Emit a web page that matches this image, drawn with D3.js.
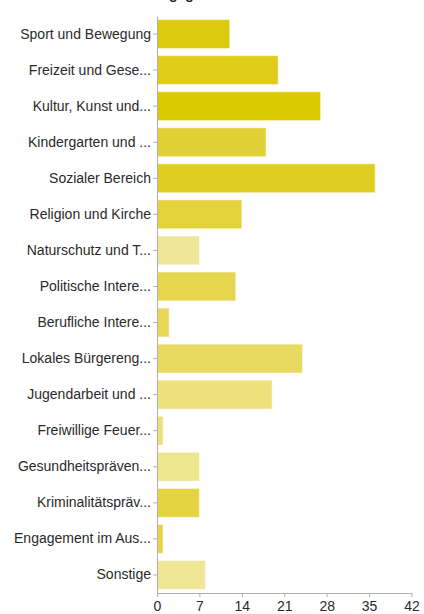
<!DOCTYPE html>
<html>
<head>
<meta charset="utf-8">
<script src="https://cdn.jsdelivr.net/npm/d3@7"></script>
<style>
  html, body { margin: 0; padding: 0; background: #fff; }
  svg { display: block; font-family: "Liberation Sans", Arial, sans-serif; }
  .axis text { fill: #2a2a2a; font-size: 14px; }
  .axis path, .axis line { stroke: #b0b0b0; }
</style>
</head>
<body>
<div id="chart"></div>
<script>
  // categories (truncated as in the original chart)
  var categories = [
    "Sport und Bewegung", "Freizeit und Gese...", "Kultur, Kunst und...",
    "Kindergarten und ...", "Sozialer Bereich", "Religion und Kirche",
    "Naturschutz und T...", "Politische Intere...", "Berufliche Intere...",
    "Lokales Bürgereng...", "Jugendarbeit und ...", "Freiwillige Feuer...",
    "Gesundheitspräven...", "Kriminalitätspräv...", "Engagement im Aus...",
    "Sonstige"
  ];
  var counts = [12, 20, 27, 18, 36, 14, 7, 13, 2, 24, 19, 1, 7, 7, 1, 8];
  var xTicks = [0, 7, 14, 21, 28, 35, 42];
  var barColors = [
    "#dccb0c", "#dfcd1a", "#dbca00", "#e2d136", "#dfce22", "#e3d23a",
    "#f0e699", "#e6d64e", "#e8d85a", "#e8da60", "#ede27e", "#ece07c",
    "#efe58d", "#e4d440", "#e6d54a", "#f0e796"
  ];

  var width = 424, height = 614;
  var margin = {top: 16, right: 12, bottom: 21, left: 157};
  var innerW = width - margin.left - margin.right,
      innerH = height - margin.top - margin.bottom;

  var svg = d3.select("#chart").append("svg")
      .attr("width", width)
      .attr("height", height);

  // title, almost fully cut off at the top
  svg.append("text")
      .attr("x", 151)
      .attr("y", -1)
      .style("font-weight", "bold")
      .style("font-size", "14px")
      .style("fill", "#222")
      .text("Engagementbereiche");

  var g = svg.append("g")
      .attr("transform", "translate(" + margin.left + "," + margin.top + ")");

  var x = d3.scaleLinear().domain([0, 42]).range([0, innerW - 0.5]);
  var y = d3.scaleBand().domain(categories).range([0, innerH])
      .paddingInner(0.2).paddingOuter(0.1);

  // bars
  g.selectAll(".bar")
      .data(counts)
    .enter().append("rect")
      .attr("class", "bar")
      .attr("x", 0.5)
      .attr("y", function(d, i) { return y(categories[i]); })
      .attr("width", function(d) { return Math.max(0, x(d) - 0.5); })
      .attr("height", y.bandwidth())
      .style("fill", function(d, i) { return barColors[i]; })
      .style("stroke", "#fff")
      .style("stroke-opacity", 0.5)
      .style("stroke-width", 1);

  // y axis
  g.append("g")
      .attr("class", "axis y")
      .call(d3.axisLeft(y).tickSize(4).tickSizeOuter(0).tickPadding(2));

  // x axis
  g.append("g")
      .attr("class", "axis x")
      .attr("transform", "translate(0," + innerH + ")")
      .call(d3.axisBottom(x).tickValues(xTicks).tickSize(4).tickSizeOuter(0).tickPadding(4));
</script>
</body>
</html>
